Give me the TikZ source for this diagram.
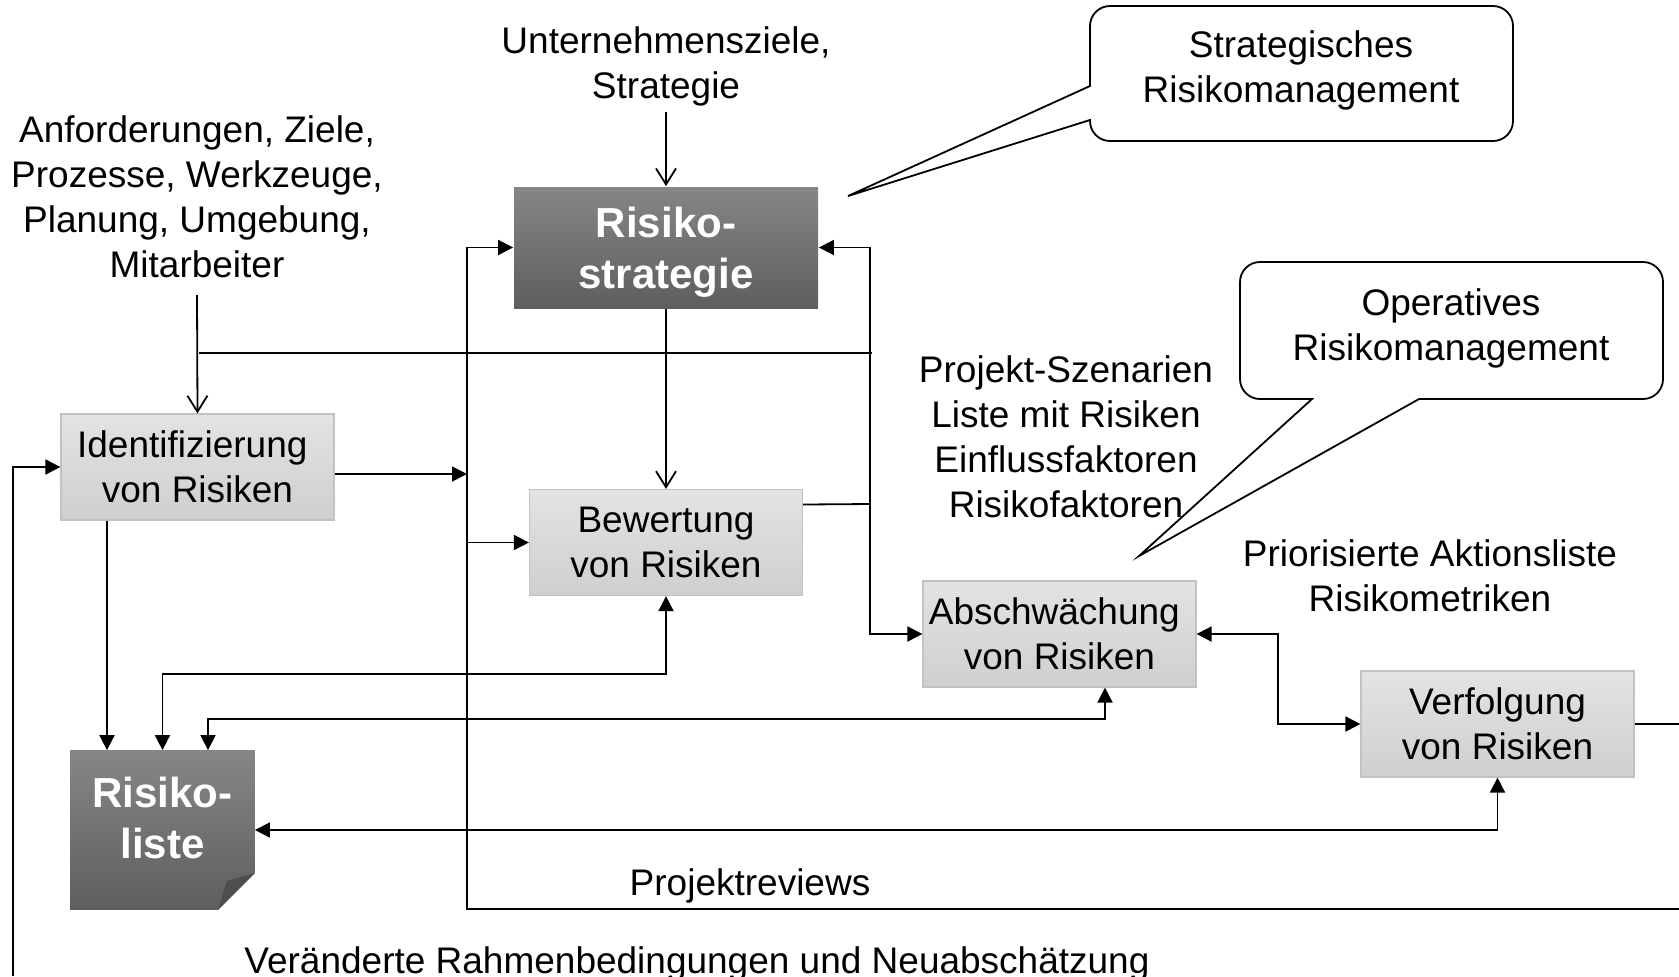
\documentclass[tikz,border=0pt]{standalone}
\usepackage{fontspec}
\setmainfont{Liberation Sans}
\usetikzlibrary{arrows.meta,calc}
\definecolor{ltop}{HTML}{E3E3E3}
\definecolor{lbot}{HTML}{CFCFCF}
\definecolor{lborder}{HTML}{C2C2C2}
\definecolor{dtop}{HTML}{868686}
\definecolor{dbot}{HTML}{5E5E5E}
\definecolor{foldc}{HTML}{4E4E4E}
\begin{document}
\begin{tikzpicture}[x=0.5pt,y=-0.5pt,line width=0.9pt,
  txt/.style={font=\fontsize{18.5}{22.5}\selectfont,align=center,inner sep=0pt},
  btxt/.style={font=\fontsize{21}{25.5}\selectfont\bfseries,align=center,inner sep=0pt,text=white},
  lbox/.style={draw=lborder,line width=0.6pt,top color=ltop,bottom color=lbot,
    minimum width=136.5pt,minimum height=53pt,inner sep=0pt,align=center,
    font=\fontsize{18.5}{22.5}\selectfont},
  dbox/.style={draw=none,top color=dtop,bottom color=dbot,minimum width=152pt,
    minimum height=60.5pt,inner sep=0pt},
  tri/.style={-{Triangle[length=7.5pt,width=7.5pt]}},
  tritri/.style={{Triangle[length=7.5pt,width=7.5pt]}-{Triangle[length=7.5pt,width=7.5pt]}},
  barb/.style={-{Straight Barb[length=8pt,width=10pt]}},
  callout/.style={line width=0.9pt}]
\useasboundingbox (0,0) rectangle (1679,976);
\clip (0,0) rectangle (1679,976);

% text labels
\node[txt] (uz) at (666,66) {Unternehmensziele,\\Strategie};
\node[txt] (anf) at (197,197) {Anforderungen, Ziele,\\Prozesse, Werkzeuge,\\Planung, Umgebung,\\Mitarbeiter};
\node[txt] (proj) at (1066,437) {Projekt-Szenarien\\Liste mit Risiken\\Einflussfaktoren\\Risikofaktoren};
\node[txt] (prio) at (1430,576) {Priorisierte Aktionsliste\\Risikometriken};
\node[txt,anchor=base] (rev) at (750,895) {Projektreviews};
\node[txt,anchor=base] (ver) at (697,973) {Veränderte Rahmenbedingungen und Neuabschätzung};

% boxes
\node[dbox] (strat) at (666,247.5) {};
\node[btxt] (strattxt) at (666,252) {Risiko-\\strategie};
\node[lbox] (ident) at (197.5,467) {Identifizierung\kern0.28em\\von Risiken};
\node[lbox] (bew) at (666,542.5) {Bewertung\\von Risiken};
\node[lbox] (absch) at (1059.5,634) {Abschwächung\kern0.28em\\von Risiken};
\node[lbox] (verf) at (1497.5,724) {Verfolgung\\von Risiken};

% Risikoliste (dog-eared)
\node[minimum width=91.5pt,minimum height=79pt,inner sep=0pt] (liste) at (162.5,830) {};
\shade[top color=dtop,bottom color=dbot] (liste.north west) -- (liste.north east)
  -- ($(liste.south east)+(0,-37)$) -- ($(liste.south east)+(-37,0)$) -- (liste.south west) -- cycle;
\fill[foldc] ($(liste.south east)+(0,-37)$) -- ($(liste.south east)+(-37,0)$)
  -- ($(liste.south east)+(-28,-29)$) -- cycle;
\node[btxt] (listet) at (162.5,818) {Risiko-\\liste};

% callouts
\draw[callout,rounded corners=10pt] (1300,6) -- (1513,6) -- (1513,141) -- (1090,141)
  [sharp corners] -- (1090,120) -- (848,196) -- (1090,86) [rounded corners=10pt] -- (1090,6) -- cycle;
\node[txt] (stratc) at (1301,70) {Strategisches\\Risikomanagement};
\draw[callout,rounded corners=10pt] (1450,262) -- (1663,262) -- (1663,399)
  [sharp corners] -- (1419,399) -- (1139,556) -- (1312,399) [rounded corners=10pt] -- (1240,399) -- (1240,262) -- cycle;
\node[txt] (opc) at (1451,328) {Operatives\\Risikomanagement};

% coordinates
\coordinate (uzEnd) at (666,112);
\coordinate (anfEnd) at (197,295);
\coordinate (j1) at (199,353);
\coordinate (j2) at (872,353);
\coordinate (cA) at (467,474);
\coordinate (lb) at (13,976);
\coordinate (pr1) at (467,909);
\coordinate (pr2) at (1679,909);
\coordinate (cR) at (870,504);
\coordinate (cB) at (666,674);
\coordinate (cC) at (1105,719);
\coordinate (cE) at (1278,680);
\coordinate (vr) at (1679,724);

% connectors
\draw[barb] (uzEnd) -- (strat.north);
\draw[barb] (strat.south) -- (bew.north);
\draw[barb] (anfEnd) -- (ident.north);
\draw (j1) -- (j2);
\draw[tri] ([yshift=-3.5pt]ident.east) -- (cA);
\draw[tri] (lb) |- (ident.west);
\draw[tri] (pr2) -- (pr1) |- (strat.west);
\draw[tri] (pr1) |- (bew.west);
\draw ([yshift=19pt]bew.east) -- (cR);
\draw[tri] (cR) |- (strat.east);
\draw[tri] (cR) |- (absch.west);
\draw[tri] ([xshift=-45.25pt]ident.south) -- ([xshift=-45.25pt]ident.south |- liste.north);
\draw[tritri] (bew.south) -- (cB) -| (liste.north);
\draw[tritri] ([xshift=22.75pt]absch.south) -- (cC) -| ([xshift=22.75pt]liste.north);
\draw[tritri] (verf.south) |- (liste.east);
\draw[tritri] (absch.east) -| (cE) |- (verf.west);
\draw (verf.east) -- (vr);
\end{tikzpicture}
\end{document}
